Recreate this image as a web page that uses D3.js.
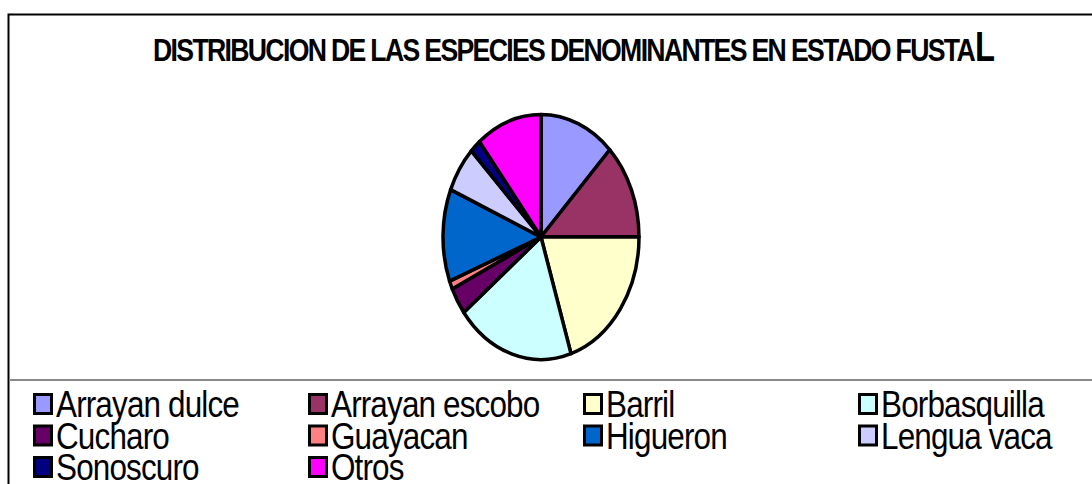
<!DOCTYPE html>
<html>
<head>
<meta charset="utf-8">
<script src="https://cdn.jsdelivr.net/npm/d3@7"></script>
<style>
  body { margin: 0; background: #fff; }
  svg { display: block; }
</style>
</head>
<body>
<script>
// Species and share of each (percent)
var species = ["Arrayan dulce", "Arrayan escobo", "Barril", "Borbasquilla", "Cucharo",
               "Guayacan", "Higueron", "Lengua vaca", "Sonoscuro", "Otros"];
var shares = [12.4, 12.6, 20.1, 19.4, 3.6, 1.1, 12.2, 6.1, 1.8, 10.8];
var colors = ["#9999FF", "#993366", "#FFFFCC", "#CCFFFF", "#660066",
              "#FF8080", "#0066CC", "#CCCCFF", "#000080", "#FF00FF"];

var width = 1092, height = 484;

var svg = d3.select("body")
    .append("svg")
    .attr("width", width)
    .attr("height", height);

// Chart frame (runs off the right and bottom edges)
svg.append("path")
    .attr("d", "M8.5," + (height + 5) + "V14.5H" + (width + 5))
    .attr("fill", "none")
    .attr("stroke", "#000")
    .attr("stroke-width", 2);

// line between plot area and legend
svg.append("line")
    .attr("x1", 9).attr("x2", width)
    .attr("y1", 380).attr("y2", 380)
    .attr("stroke", "#888")
    .attr("stroke-width", 2);

var font = "'Liberation Sans Narrow', 'Liberation Sans', Arial, sans-serif";

// Title
svg.append("text")
    .attr("x", 153)
    .attr("y", 61)
    .style("font-family", font)
    .style("font-weight", "bold")
    .style("font-size", "32px")
    .style("letter-spacing", "-2px")
    .attr("textLength", 821)
    .attr("lengthAdjust", "spacingAndGlyphs")
    .text("DISTRIBUCION DE LAS ESPECIES DENOMINANTES EN ESTADO FUSTA");

svg.append("text")
    .attr("x", 975)
    .attr("y", 61)
    .style("font-family", font)
    .style("font-weight", "bold")
    .style("font-size", "42px")
    .attr("textLength", 20)
    .attr("lengthAdjust", "spacingAndGlyphs")
    .text("L");

// Pie (drawn on unit circle, stretched into an ellipse)
var cx = 541, cy = 237, rx = 98, ry = 122.5;

var pie = d3.pie().sort(null);
var arc = d3.arc().innerRadius(0).outerRadius(1);

svg.append("g")
    .attr("transform", "translate(" + cx + "," + cy + ") scale(" + rx + "," + ry + ")")
  .selectAll("path")
    .data(pie(shares))
    .enter().append("path")
      .attr("d", arc)
      .attr("fill", function(d, i) { return colors[i]; })
      .attr("stroke", "#000")
      .attr("stroke-width", 3.5)
      .attr("stroke-linejoin", "round")
      .attr("vector-effect", "non-scaling-stroke");

// Legend, 4 columns
var colX = d3.scaleLinear().domain([0, 3]).range([33, 858]);
var rowY = d3.scaleLinear().domain([0, 2]).range([417, 480]);

var legend = svg.selectAll(".legend")
    .data(species)
    .enter().append("g")
      .attr("class", "legend")
      .attr("transform", function(d, i) {
        return "translate(" + colX(i % 4) + "," + rowY(Math.floor(i / 4)) + ")";
      });

legend.append("rect")
    .attr("x", 1.5)
    .attr("y", -22.5)
    .attr("width", 17)
    .attr("height", 19)
    .attr("fill", function(d, i) { return colors[i]; })
    .attr("stroke", "#000")
    .attr("stroke-width", 3);

// condensed look of the original legend font
legend.append("text")
    .attr("x", 23)
    .attr("y", 0)
    .style("font-family", font)
    .style("font-size", "37px")
    .style("letter-spacing", "-1px")
    .text(function(d) { return d; })
    .each(function() {
      var len = this.getComputedTextLength();
      d3.select(this)
          .attr("textLength", len * 0.85)
          .attr("lengthAdjust", "spacingAndGlyphs");
    });
</script>
</body>
</html>
